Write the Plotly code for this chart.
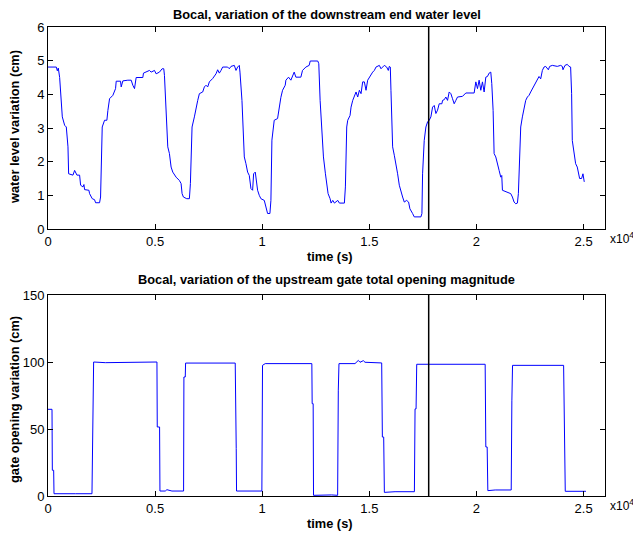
import plotly.graph_objects as go

# ---------------- data ----------------
t_level = [0, 388, 435, 481, 544, 621, 668, 777, 854, 932, 963, 1165, 1242, 1351, 1475, 1522,
           1631, 1677, 1708, 1910, 1941, 2065, 2174, 2221, 2407, 2454, 2485, 2531, 2640, 2749,
           2795, 2873, 3028, 3153, 3184, 3386, 3417, 3494, 3727, 3883, 3960, 4038, 4115, 4426,
           4457, 4737, 4814, 4970, 5047, 5203, 5327, 5404, 5436, 5513, 5591, 5668, 5746, 5824,
           5979, 6134, 6212, 6259, 6321, 6476, 6600, 6647, 6724, 6833, 6911, 6989, 7066, 7221,
           7299, 7376, 7454, 7532, 7687, 7843, 7920, 7998, 8075, 8153, 8386, 8464, 8542, 8697,
           8775, 8852, 8930, 8961, 9054, 9132, 9163, 9240, 9318, 9396, 9473, 9551, 9598, 9675,
           9706, 9784, 9862, 9939, 10095, 10172, 10250, 10359, 10405, 10452, 10514, 10560,
           10716, 10793, 10871, 10949, 11073, 11104, 11228, 11337, 11415, 11492, 11570, 11803,
           11880, 11958, 12036, 12191, 12240, 12593, 12640, 12702, 12795, 12857, 12950, 13012,
           13074, 13167, 13214, 13292, 13369, 13525, 13602, 13835, 13882, 13944, 13991, 14099,
           14146, 14224, 14301, 14379, 14457, 14534, 14612, 14689, 14767, 14845, 14922, 15000,
           15078, 15155, 15233, 15311, 15466, 15544, 15621, 15699, 15808, 15885, 15932, 15978,
           16009, 16087, 16165, 16242, 16320, 16398, 16475, 16553, 16631, 16739, 16832, 16894,
           17019, 17096, 17407, 17454, 17485, 17562, 17640, 17718, 17795, 17873, 17951, 18028,
           18106, 18184, 18261, 18386, 18417, 18494, 18572, 18650, 18727, 18805, 18883, 18960,
           19038, 19116, 19348, 19504, 19892, 19970, 20047, 20125, 20203, 20280, 20358, 20436,
           20513, 20591, 20669, 20715, 20777, 20824, 20902, 20979, 21057, 21135, 21181, 21212,
           21445, 21600, 21678, 21756, 21833, 21911, 21957, 22019, 22066, 22144, 22221, 22299,
           22377, 22454, 22532, 22610, 22687, 22765, 22843, 22920, 22998, 23076, 23153, 23231,
           23355, 23417, 23542, 23774, 23930, 24007, 24038, 24132, 24240, 24318, 24396, 24442,
           24473, 24551, 24629, 24706, 24753, 24815, 24908, 24971, 25032]
water_level = [4.81, 4.81, 4.70, 4.78, 4.50, 3.80, 3.33, 3.08, 3.03, 2.44, 1.64, 1.60, 1.74, 1.60, 1.60, 1.30,
               1.25, 1.32, 1.17, 1.15, 1.05, 0.90, 0.87, 0.78, 0.78, 0.95, 1.74, 3.03, 3.23, 3.23,
               3.52, 3.87, 3.97, 4.17, 4.39, 4.39, 4.22, 4.40, 4.42, 4.42, 4.27, 4.17, 4.50, 4.50,
               4.63, 4.71, 4.66, 4.71, 4.61, 4.66, 4.76, 4.76, 4.56, 3.43, 2.44, 2.24, 1.84, 1.69,
               1.54, 1.44, 1.35, 1.05, 0.95, 0.90, 0.90, 1.35, 3.03, 3.33, 3.62, 3.82, 4.02, 4.07,
               4.22, 4.27, 4.22, 4.37, 4.47, 4.61, 4.73, 4.63, 4.71, 4.81, 4.81, 4.76, 4.83, 4.86,
               4.71, 4.81, 4.86, 4.66, 3.82, 2.83, 2.14, 1.94, 1.69, 1.59, 1.20, 1.15, 1.64, 1.69,
               1.54, 1.15, 1.00, 0.90, 0.85, 0.65, 0.46, 0.46, 0.85, 2.64, 3.08, 3.23,
               3.28, 3.62, 3.91, 4.12, 4.27, 4.42, 4.51, 4.42, 4.53, 4.66, 4.51, 4.51,
               4.71, 4.76, 4.81, 4.86, 4.99, 4.99, 4.91, 3.82, 2.83, 2.14, 1.64, 1.35,
               1.05, 0.90, 0.77, 0.85, 0.77, 0.85, 0.77, 0.77, 1.25, 3.03, 3.23, 3.37,
               3.62, 3.82, 3.97, 4.07, 3.92, 4.12, 4.02, 4.37, 4.37, 4.12, 4.42, 4.51,
               4.56, 4.66, 4.71, 4.81, 4.86, 4.76, 4.81, 4.86, 4.81, 4.71, 4.83, 4.81,
               4.12, 2.44, 2.19, 1.84, 1.64, 1.30, 1.10, 0.95, 0.80, 0.85, 0.80, 0.60,
               0.46, 0.36, 0.36, 0.46, 1.64, 2.63, 3.03, 3.18, 3.23, 3.33, 3.62, 3.67,
               3.43, 3.53, 3.72, 3.72, 3.82, 3.84, 3.92, 3.82, 4.07, 4.02, 3.87, 3.72,
               3.82, 3.92, 3.94, 4.04, 4.04, 4.37, 4.17, 4.42, 4.12, 4.37, 4.07, 4.51,
               4.53, 4.63, 4.66, 4.32, 3.52, 2.24, 2.14, 1.89, 1.74, 1.54, 1.59, 1.15,
               1.10, 1.05, 0.95, 0.80, 0.75, 0.77, 1.05, 2.63, 3.03, 3.33, 3.62, 3.82,
               3.92, 3.97, 4.07, 4.17, 4.27, 4.37, 4.42, 4.53, 4.46, 4.71, 4.81, 4.83,
               4.73, 4.83, 4.86, 4.83, 4.86, 4.83, 4.73, 4.86, 4.89, 4.83, 4.81, 4.02,
               2.63, 2.34, 1.94, 1.84, 1.64, 1.50, 1.50, 1.64, 1.40]

t_gate = [0, 187, 202, 264, 280, 809, 1275, 2053, 2084, 2130, 2675, 3452, 3919, 5085, 5100, 5209,
          5225, 5474, 5551, 5707, 5785, 6329, 6344, 6407, 6422, 8739, 8755, 8786, 8801, 9983,
          10014, 10139, 12316, 12331, 12378, 12394, 13240, 13520, 13551, 13582, 14330, 14408,
          14486, 14564, 14720, 14797, 15576, 15608, 15670, 15701, 16200, 17103, 17134, 17181,
          17212, 20406, 20437, 20500, 20531, 20874, 21622, 21653, 21684, 24068, 24083, 24115,
          24145, 25111]
gate_opening = [64.7, 64.7, 19.2, 19.2, 1.7, 1.5, 1.7, 1.7, 44, 100, 99.5, 99.8, 100, 100, 51.5, 51.5,
                3.7, 3.7, 4.7, 4.2, 3.7, 3.7, 88.8, 88.8, 99.2, 99.2, 35.3, 35.3, 3.7, 3.7,
                97.5, 98.8, 98.8, 68.9, 68.9, 0.5, 0.8, 0.5, 79, 98.8, 98.8, 100,
                101.2, 99.8, 101, 99.8, 99.3, 44, 44, 2.7, 3.2, 3.2, 65, 65,
                98.3, 98.3, 36.6, 36.6, 4.0, 4.5, 4.5, 71, 97.5, 97.5, 73.8, 73.8,
                3.5, 3.5]

t_marker = 17770
x_tickvals = [0, 5000, 10000, 15000, 20000, 25000]
x_ticktext = ["0", "0.5", "1", "1.5", "2", "2.5"]
y1_ticks = [0, 1, 2, 3, 4, 5, 6]
y2_ticks = [0, 50, 100, 150]

title_top = "Bocal, variation of the downstream end water level"
title_bot = "Bocal, variation of the upstream gate total opening magnitude"

# ---------------- figure ----------------
W, H = 633, 533
ML, MR, MT, MB = 48, 28, 27, 37
PH = H - MT - MB
FONT = "Arial, Liberation Sans, Helvetica, sans-serif"


def py(p):
    return (H - MB - p) / PH


def px(p):
    return (p - ML) / (W - ML - MR)


fig = go.Figure()
fig.add_trace(go.Scatter(x=t_level, y=water_level, mode="lines",
                         line=dict(color="#0000ff", width=1), xaxis="x", yaxis="y",
                         showlegend=False))
fig.add_trace(go.Scatter(x=t_gate, y=gate_opening, mode="lines",
                         line=dict(color="#0000ff", width=1), xaxis="x2", yaxis="y2",
                         showlegend=False))

axis_common = dict(showline=True, linecolor="black", linewidth=1, mirror="ticks",
                   ticks="inside", ticklen=5, tickcolor="black", showgrid=False,
                   zeroline=False, automargin=False,
                   tickfont=dict(family=FONT, size=13, color="black"))

fig.update_layout(
    width=W, height=H, margin=dict(l=ML, r=MR, t=MT, b=MB, autoexpand=False),
    paper_bgcolor="white", plot_bgcolor="white",
    xaxis=dict(domain=[0, 1], anchor="y", range=[0, 26000], tickvals=x_tickvals,
               ticktext=x_ticktext, **axis_common),
    yaxis=dict(domain=[py(229), 1], anchor="x", range=[0, 6], tickvals=y1_ticks,
               **axis_common),
    xaxis2=dict(domain=[0, 1], anchor="y2", range=[0, 26000], tickvals=x_tickvals,
                ticktext=x_ticktext, **axis_common),
    yaxis2=dict(domain=[0, py(295)], anchor="x2", range=[0, 150], tickvals=y2_ticks,
                **axis_common),
)

fig.add_shape(type="line", xref="x", yref="y domain", x0=t_marker, x1=t_marker, y0=0, y1=1,
              line=dict(color="black", width=1.5))
fig.add_shape(type="line", xref="x2", yref="y2 domain", x0=t_marker, x1=t_marker, y0=0, y1=1,
              line=dict(color="black", width=1.5))

bold = dict(family=FONT, size=12.8, color="black")
ann = [
    dict(text="<b>" + title_top + "</b>", x=0.5, y=py(14)),
    dict(text="<b>" + title_bot + "</b>", x=0.5, y=py(279)),
    dict(text="<b>time (s)</b>", x=px(330), y=py(256)),
    dict(text="<b>time (s)</b>", x=px(330), y=py(523)),
    dict(text="<b>water level variation (cm)</b>", x=px(14), y=py(127), textangle=-90),
    dict(text="<b>gate opening variation (cm)</b>", x=px(14), y=py(400), textangle=-90),
]
for a in ann:
    fig.add_annotation(xref="paper", yref="paper", showarrow=False, font=bold,
                       xanchor="center", yanchor="middle", **a)

for yy in (241, 508):
    fig.add_annotation(xref="paper", yref="paper", showarrow=False,
                       text="x10<sup>4</sup>", x=px(608), y=py(yy - 3), xanchor="left",
                       yanchor="middle", font=dict(family=FONT, size=12, color="black"))

fig.write_html("out.html", config={"displayModeBar": False},
               post_script="document.body.style.margin='0';document.body.style.overflow='hidden';")
